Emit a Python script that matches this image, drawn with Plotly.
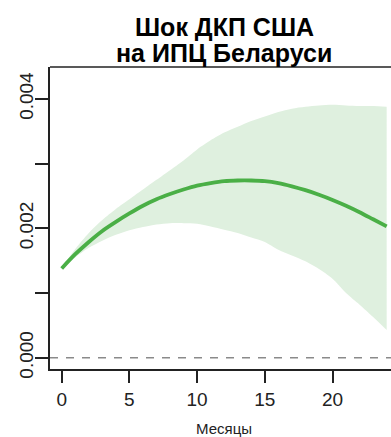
import plotly.graph_objects as go

months = list(range(25))
irf = [0.00138, 0.00160, 0.00179, 0.00196, 0.00210, 0.00223, 0.00235, 0.00245, 0.00253,
       0.00260, 0.00266, 0.00270, 0.00273, 0.00274, 0.00274, 0.00273, 0.00270, 0.00265,
       0.00259, 0.00252, 0.00244, 0.00235, 0.00225, 0.00214, 0.00203]
upper = [0.00139, 0.00168, 0.00193, 0.00213, 0.00230, 0.00245, 0.00260, 0.00275, 0.00290,
         0.00305, 0.00322, 0.00336, 0.00348, 0.00357, 0.00366, 0.00373, 0.00380, 0.00385,
         0.00388, 0.00390, 0.00391, 0.00390, 0.00389, 0.00389, 0.00388]
lower = [0.00137, 0.00155, 0.00170, 0.00181, 0.00190, 0.00197, 0.00202, 0.00206, 0.00208,
         0.00208, 0.00207, 0.00203, 0.00198, 0.00193, 0.00186, 0.00179, 0.00167, 0.00158,
         0.00149, 0.00137, 0.00122, 0.00100, 0.00082, 0.00063, 0.00043]

x_ticks = [0, 5, 10, 15, 20]
y_ticks = [0.000, 0.001, 0.002, 0.003, 0.004]
y_ticktext = ["0.000", "", "0.002", "", "0.004"]

title_lines = ["Шок ДКП США", "на ИПЦ Беларуси"]
x_title = "Месяцы"

FONT = "Liberation Sans, Arial, sans-serif"

fig = go.Figure()
fig.add_trace(go.Scatter(x=months, y=upper, mode="lines", line=dict(width=0, shape="spline", smoothing=0.8),
                         showlegend=False, hoverinfo="skip"))
fig.add_trace(go.Scatter(x=months, y=lower, mode="lines", line=dict(width=0, shape="spline", smoothing=0.8),
                         fill="tonexty", fillcolor="#dff0df", showlegend=False,
                         hoverinfo="skip"))
fig.add_trace(go.Scatter(x=months, y=irf, mode="lines",
                         line=dict(color="#4aaf46", width=3.8, shape="spline", smoothing=0.8),
                         showlegend=False))

fig.add_hline(y=0, line=dict(color="#8a8a8a", width=1.4, dash="8px,8px"))

fig.update_layout(
    width=391, height=437,
    margin=dict(l=50, r=0, t=67, b=68),
    plot_bgcolor="white", paper_bgcolor="white",
    font=dict(family=FONT, size=19, color="#111"),
    xaxis=dict(range=[-0.864, 24.32], tickvals=x_ticks, ticks="outside", ticklen=12,
               tickwidth=1.5, tickcolor="#222", showline=True, linecolor="#222",
               linewidth=1.5, showgrid=False, zeroline=False,
               tickfont=dict(size=19, color="#222")),
    yaxis=dict(range=[-0.000174, 0.004494], tickvals=y_ticks, ticktext=y_ticktext,
               ticks="outside", ticklen=13, tickwidth=1.5, tickcolor="#222",
               showline=True, linecolor="#222", linewidth=1.5, showgrid=False,
               zeroline=False, tickangle=-90, ticklabelstandoff=-5,
               tickfont=dict(size=19, color="#222")),
)
fig.add_shape(type="line", xref="paper", yref="paper", x0=0, x1=1, y0=1, y1=1,
              line=dict(color="#222", width=1.5))

cx = (224 - 50) / 341
fig.add_annotation(text="<b>" + title_lines[0] + "</b>", xref="paper", yref="paper",
                   x=cx, y=1 + (67 - 27) / 302, showarrow=False,
                   font=dict(size=25, color="#000"), xanchor="center", yanchor="middle")
fig.add_annotation(text="<b>" + title_lines[1] + "</b>", xref="paper", yref="paper",
                   x=cx, y=1 + (67 - 53) / 302, showarrow=False,
                   font=dict(size=25, color="#000"), xanchor="center", yanchor="middle")
fig.add_annotation(text=x_title, xref="paper", yref="paper",
                   x=cx, y=-(428 - 369) / 302, showarrow=False,
                   font=dict(size=15, color="#222"), xanchor="center", yanchor="middle")

fig.write_html("out.html")
